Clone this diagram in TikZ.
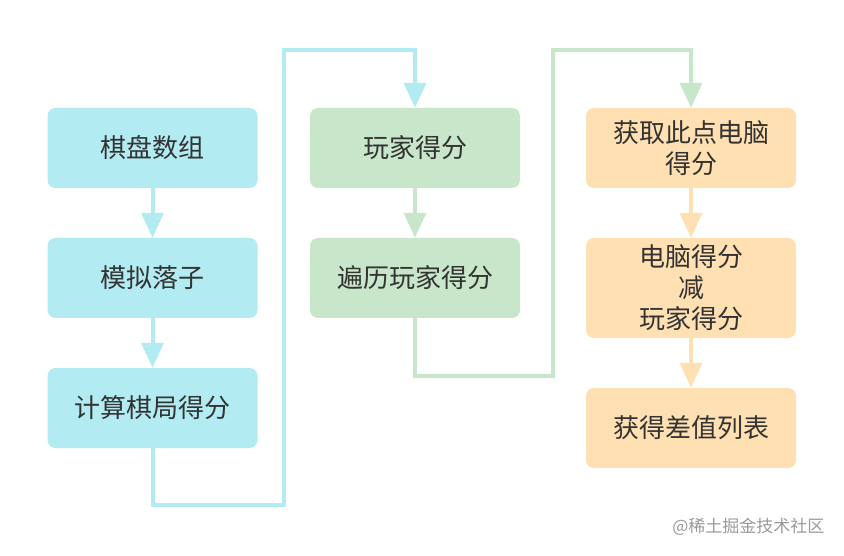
\documentclass[tikz,border=0pt]{standalone}
\usepackage{fontspec}
\setmainfont{Noto Sans CJK SC}
\usetikzlibrary{arrows.meta}
\definecolor{cyanbox}{HTML}{B2EBF2}
\definecolor{greenbox}{HTML}{C8E6C9}
\definecolor{orangebox}{HTML}{FFE0B2}
\definecolor{boxtext}{HTML}{333333}
\tikzset{
  box/.style={rounded corners=8pt, minimum width=210pt, minimum height=80pt,
    align=center, text=boxtext, font=\fontsize{26}{31}\selectfont, inner sep=0pt},
  link/.style={line width=4pt, -{Triangle[width=22pt,length=25pt]}},
}
\begin{document}
\begin{tikzpicture}[x=1pt,y=-1pt]
      \useasboundingbox (0,0) rectangle (844,556);
      % first column
      \foreach \n/\y/\t in{c1/148/棋盘数组, c2/278/模拟落子, c3/408/计算棋局得分}{%
        \node[box, fill=cyanbox] (\n) at (152.5,\y) {\t};
      }
      % second column
      \foreach \n/\y/\t in{p1/148/玩家得分, p2/278/遍历玩家得分}{%
        \node[box, fill=greenbox] (\n) at (415,\y) {\t};
      }
      % third column
      \node[box, fill=orangebox] (o1) at (691,148) {获取此点电脑\\得分};
      \node[box, fill=orangebox, minimum height=100pt] (o2) at (691,288) {电脑得分\\减\\玩家得分};
      \node[box, fill=orangebox] (o3) at (691,428) {获得差值列表};
      \coordinate (t1) at (284,50);
      \coordinate (t2) at (553,50);
      \draw[link, cyanbox](c1)--(c2);
      \draw[link, cyanbox](c2)--(c3);
      \draw[link, cyanbox](c3.south)--++(0,57)-|(t1)-|(p1.north);
      \draw[link, greenbox](p1)--(p2);
      \draw[link, greenbox](p2.south)--++(0,58)-|(t2)-|(o1.north);
      \draw[link, orangebox](o1)--(o2);
      \draw[link, orangebox](o2)--(o3);
      \node[text=black!40, font=\fontsize{17}{20}\selectfont, anchor=east] (mark) at (828,527) {@稀土掘金技术社区};
    \end{tikzpicture}
\end{document}
